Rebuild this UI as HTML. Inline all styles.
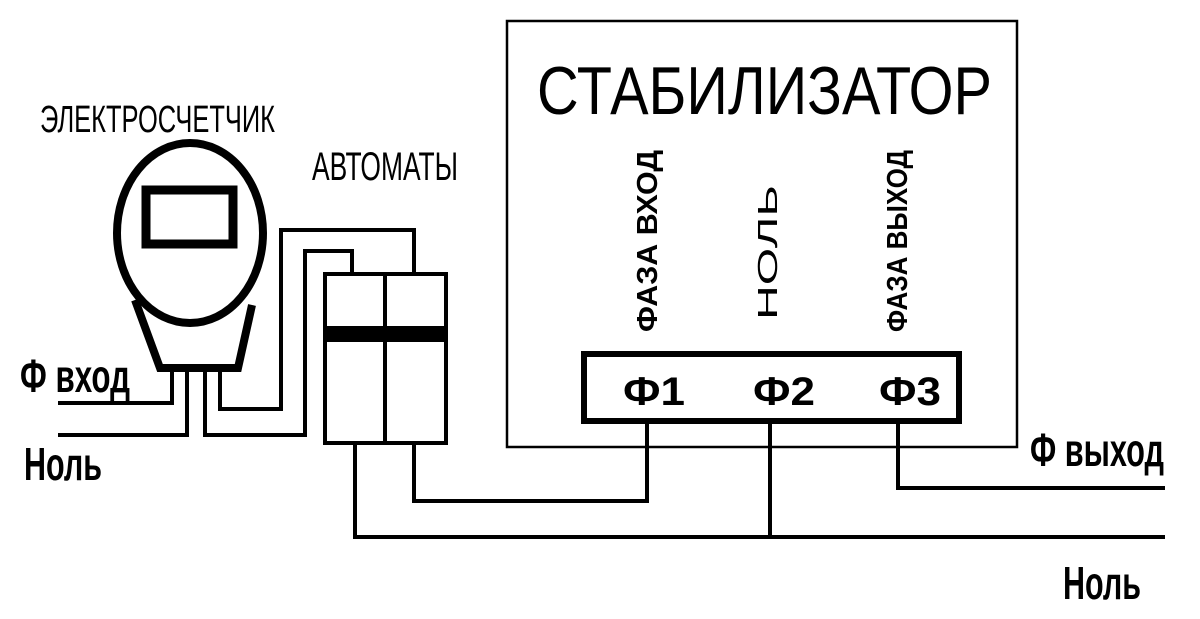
<!DOCTYPE html>
<html><head><meta charset="utf-8"><style>
html,body{margin:0;padding:0;background:#fff;}
svg{display:block;}
text{font-family:"Liberation Sans",sans-serif;fill:#000;}
</style></head><body>
<svg width="1200" height="619" viewBox="0 0 1200 619" xmlns="http://www.w3.org/2000/svg">
<rect width="1200" height="619" fill="#fff"/>
<!-- stabilizer box -->
<rect x="507" y="21" width="510" height="426" fill="none" stroke="#000" stroke-width="2.5"/>
<text x="537" y="114" font-size="68" textLength="455" lengthAdjust="spacingAndGlyphs">СТАБИЛИЗАТОР</text>
<!-- vertical labels -->
<text transform="translate(657,332) rotate(-90)" font-size="29" font-weight="bold" textLength="182" lengthAdjust="spacingAndGlyphs">ФАЗА ВХОД</text>
<text transform="translate(777,320) rotate(-90)" font-size="28" textLength="135" lengthAdjust="spacingAndGlyphs">НОЛЬ</text>
<text transform="translate(907,332) rotate(-90)" font-size="29" font-weight="bold" textLength="182" lengthAdjust="spacingAndGlyphs">ФАЗА ВЫХОД</text>
<!-- terminal block -->
<rect x="584" y="354" width="375" height="67" fill="none" stroke="#000" stroke-width="6"/>
<text x="623" y="405" font-size="40" font-weight="bold" textLength="62" lengthAdjust="spacingAndGlyphs">Ф1</text>
<text x="753" y="405" font-size="40" font-weight="bold" textLength="62" lengthAdjust="spacingAndGlyphs">Ф2</text>
<text x="879" y="405" font-size="40" font-weight="bold" textLength="62" lengthAdjust="spacingAndGlyphs">Ф3</text>
<!-- meter -->
<text x="40" y="132" font-size="38" textLength="235" lengthAdjust="spacingAndGlyphs">ЭЛЕКТРОСЧЕТЧИК</text>
<path d="M135,300 L160,368 L238,368 L252,305" fill="none" stroke="#000" stroke-width="8" stroke-linejoin="miter"/>
<ellipse cx="190" cy="233" rx="73" ry="90" fill="#fff" stroke="#000" stroke-width="8"/>
<rect x="146" y="190" width="87" height="54" fill="none" stroke="#000" stroke-width="9"/>
<text x="312" y="180" font-size="40" textLength="146" lengthAdjust="spacingAndGlyphs">АВТОМАТЫ</text>
<text x="20" y="392" font-size="46" font-weight="bold" textLength="110" lengthAdjust="spacingAndGlyphs">Ф вход</text>
<text x="24" y="480" font-size="46" font-weight="bold" textLength="78" lengthAdjust="spacingAndGlyphs">Ноль</text>
<text x="1030" y="466" font-size="46" font-weight="bold" textLength="134" lengthAdjust="spacingAndGlyphs">Ф выход</text>
<text x="1063" y="599" font-size="46" font-weight="bold" textLength="78" lengthAdjust="spacingAndGlyphs">Ноль</text>
<!-- wires -->
<g fill="none" stroke="#000" stroke-width="4">
<polyline points="58,403 172,403 172,370"/>
<polyline points="58,435 187,435 187,370"/>
<polyline points="205,370 205,435 305,435 305,251 352,251 352,272"/>
<polyline points="220,370 220,409 281,409 281,230 414,230 414,272"/>
<polyline points="355,444 355,537 1165,537"/>
<polyline points="414,444 414,501 647,501 647,422"/>
<line x1="770" y1="422" x2="770" y2="537"/>
<polyline points="898,422 898,488 1165,488"/>
</g>
<!-- breakers -->
<rect x="325" y="274" width="121" height="169" fill="none" stroke="#000" stroke-width="4"/>
<line x1="385" y1="274" x2="385" y2="443" stroke="#000" stroke-width="4"/>
<rect x="325" y="326" width="121" height="16" fill="#000"/>
</svg>
</body></html>
